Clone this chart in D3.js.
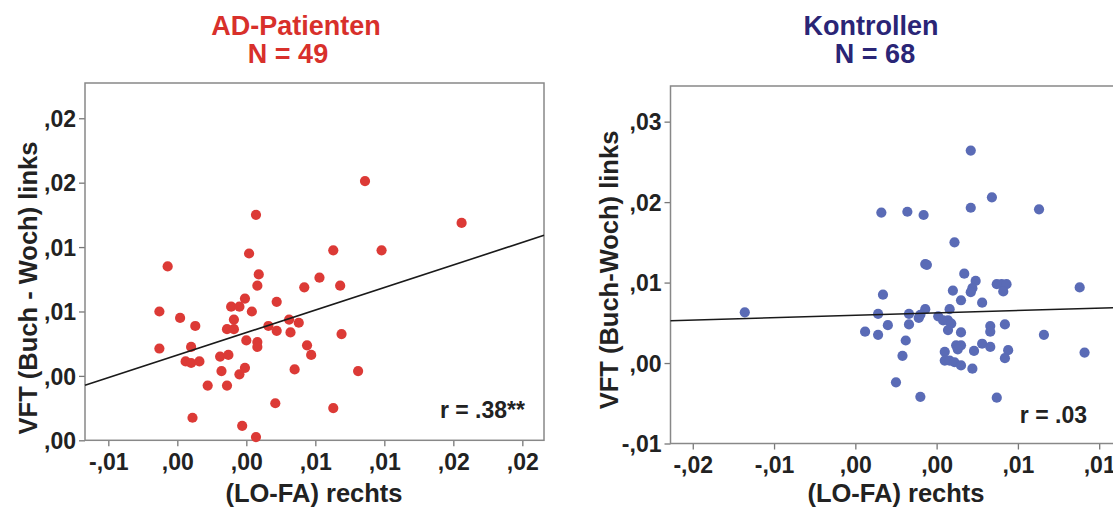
<!DOCTYPE html>
<html>
<head>
<meta charset="utf-8">
<script src="https://cdn.jsdelivr.net/npm/d3@7"></script>
<style>
  html, body { margin: 0; padding: 0; background: #fff; }
  svg { display: block; font-family: "Liberation Sans", Arial, sans-serif; }
</style>
</head>
<body>
<svg id="chart" width="1113" height="513"></svg>
<script>
// ---------- Left panel: AD-Patienten ----------
const adX = [0.0111,0.0181,0.0032,-0.0032,0.0027,0.0088,0.0123,0.0034,0.0078,0.0033,0.0067,0.0093,0.0047,0.0024,0.0014,0.0020,0.0029,-0.0038,-0.0023,0.0016,-0.0012,0.0011,0.0016,0.0041,0.0056,0.0063,0.0047,0.0057,0.0094,0.0025,0.0033,0.0033,-0.0038,-0.0015,0.0069,0.0072,-0.0019,-0.0015,-0.0009,0.0006,0.0012,0.0007,0.0024,0.0020,0.0060,0.0106,-0.0003,0.0011,0.0046,0.0088,-0.0014,0.0022,0.0032];
const adY = [0.0161,0.0135,0.0140,0.0108,0.0116,0.0118,0.0118,0.0103,0.0101,0.0096,0.0095,0.0096,0.0086,0.0088,0.0083,0.0083,0.0080,0.0080,0.0076,0.0075,0.0071,0.0069,0.0069,0.0071,0.0075,0.0073,0.0068,0.0067,0.0066,0.0062,0.0061,0.0058,0.0057,0.0058,0.0059,0.0053,0.0049,0.0048,0.0049,0.0052,0.0053,0.0043,0.0045,0.0041,0.0044,0.0043,0.0034,0.0034,0.0023,0.0020,0.0014,0.0009,0.0002];
const adXTicks = [-0.0075,-0.0025,0.0025,0.0075,0.0125,0.0175,0.0225];
const adXLabels = ["-,01",",00",",00",",01",",01",",02",",02"];
const adYTicks = [0,0.004,0.008,0.012,0.016,0.020];
const adYLabels = [",00",",00",",01",",01",",02",",02"];
const adFit = { intercept: 0.00599, slope: 0.280 };

// ---------- Right panel: Kontrollen ----------
const koX = [0.0021,0.0034,-0.0034,-0.0018,-0.0008,0.0021,0.0063,0.0011,-0.0007,-0.0006,0.0017,0.0024,0.0037,0.0040,0.0043,0.0041,0.0088,0.0010,0.0022,0.0021,-0.0033,0.0015,0.0028,-0.0118,-0.0036,-0.0017,-0.0007,0.0008,-0.0011,-0.0010,0.0001,0.0004,0.0007,0.0009,0.0007,-0.0030,-0.0017,-0.0044,-0.0036,0.0015,0.0033,0.0033,0.0042,0.0066,-0.0019,0.0012,0.0015,0.0013,0.0028,0.0033,0.0023,0.0044,0.0042,0.0091,-0.0021,0.0005,0.0005,0.0008,0.0011,0.0015,0.0022,-0.0025,-0.0010,0.0037];
const koY = [0.0264,0.0206,0.0187,0.0188,0.0184,0.0193,0.0191,0.0150,0.0123,0.0122,0.0111,0.0102,0.0098,0.0098,0.0098,0.0089,0.0094,0.0090,0.0093,0.0088,0.0085,0.0078,0.0075,0.0063,0.0061,0.0061,0.0067,0.0067,0.0056,0.0060,0.0058,0.0053,0.0053,0.0049,0.0041,0.0047,0.0048,0.0039,0.0035,0.0038,0.0046,0.0039,0.0048,0.0035,0.0028,0.0022,0.0022,0.0017,0.0024,0.0020,0.0015,0.0016,0.0006,0.0013,0.0009,0.0014,0.0003,0.0003,0.0001,-0.0003,-0.0007,-0.0024,-0.0042,-0.0043];
const koXTicks = [-0.015,-0.010,-0.005,0.000,0.005,0.010];
const koXLabels = ["-,02","-,01",",00",",00",",01",",01"];
const koYTicks = [-0.01,0,0.01,0.02,0.03];
const koYLabels = ["-,01",",00",",01",",02",",03"];
const koFit = { intercept: 0.00623, slope: 0.0594 };

const svg = d3.select("#chart");
const FONT = "Liberation Sans, Arial, sans-serif";

function panel(cfg) {
  const x = d3.scaleLinear().domain(cfg.xDomain).range([cfg.left, cfg.right]);
  const y = d3.scaleLinear().domain(cfg.yDomain).range([cfg.bottom, cfg.top]);
  const g = svg.append("g");

  // titles
  g.append("text").attr("x", cfg.titleX).attr("y", 35).attr("text-anchor", "middle")
    .attr("font-size", 27).attr("font-weight", "bold").attr("fill", cfg.titleColor).text(cfg.title);
  g.append("text").attr("x", cfg.nX).attr("y", 63).attr("text-anchor", "middle")
    .attr("font-size", 27).attr("font-weight", "bold").attr("fill", cfg.titleColor).text(cfg.n);

  // axes
  const xa = g.append("g").attr("transform", `translate(0,${cfg.bottom})`)
    .call(d3.axisBottom(x).tickValues(cfg.xTicks).tickFormat((d, i) => cfg.xLabels[i]).tickSize(6).tickSizeOuter(0));
  const ya = g.append("g").attr("transform", `translate(${cfg.left},0)`)
    .call(d3.axisLeft(y).tickValues(cfg.yTicks).tickFormat((d, i) => cfg.yLabels[i]).tickSize(6).tickSizeOuter(0));
  [xa, ya].forEach(a => {
    a.select(".domain").remove();
    a.selectAll(".tick line").attr("stroke", "#777").attr("stroke-width", 1.3);
    a.selectAll(".tick text").attr("fill", "#222").attr("font-size", 23).attr("font-weight", "bold")
      .attr("font-family", FONT);
  });
  xa.selectAll(".tick text").attr("dy", "0.9em");
  ya.selectAll(".tick text").attr("dx", "0px").attr("dy", "0.36em");

  // frame
  g.append("rect").attr("x", cfg.left).attr("y", cfg.top)
    .attr("width", cfg.right - cfg.left).attr("height", cfg.bottom - cfg.top)
    .attr("fill", "none").attr("stroke", "#888").attr("stroke-width", 1.5);

  // points
  const pts = cfg.xs.map((v, i) => ({ x: v, y: cfg.ys[i] }));
  g.append("g").selectAll("circle").data(pts).join("circle")
    .attr("cx", d => x(d.x)).attr("cy", d => y(d.y)).attr("r", 5.1)
    .attr("fill", cfg.dotColor);

  // regression line
  const x0 = cfg.xDomain[0], x1 = cfg.xDomain[1];
  g.append("line")
    .attr("x1", x(x0)).attr("y1", y(cfg.fit.intercept + cfg.fit.slope * x0))
    .attr("x2", x(x1)).attr("y2", y(cfg.fit.intercept + cfg.fit.slope * x1))
    .attr("stroke", "#1a1a1a").attr("stroke-width", 1.6);

  // r annotation
  g.append("text").attr("x", cfg.rX).attr("y", cfg.rY).attr("text-anchor", "end")
    .attr("font-size", 23).attr("font-weight", "bold").attr("fill", "#222").text(cfg.r);

  // axis titles
  g.append("text").attr("x", cfg.xTitleX).attr("y", 502).attr("text-anchor", "middle")
    .attr("font-size", 25.5).attr("font-weight", "bold").attr("fill", "#222").text("(LO-FA) rechts");
  g.append("text").attr("transform", `translate(${cfg.yTitleX},${cfg.yTitleY}) rotate(-90)`)
    .attr("text-anchor", "middle").attr("font-size", 25.5).attr("font-weight", "bold")
    .attr("fill", "#222").text(cfg.yTitle);
}

panel({
  xs: adX, ys: adY, xTicks: adXTicks, xLabels: adXLabels, yTicks: adYTicks, yLabels: adYLabels,
  fit: adFit, xDomain: [-0.00919, 0.02407], yDomain: [0, 0.02219],
  left: 85, right: 544, top: 83, bottom: 440.3,
  title: "AD-Patienten", n: "N = 49", titleX: 296, nX: 288, titleColor: "#d8302b",
  dotColor: "#dc3a36", r: "r = .38**", rX: 525, rY: 418,
  xTitleX: 314, yTitle: "VFT (Buch - Woch) links", yTitleX: 37, yTitleY: 288
});

panel({
  xs: koX, ys: koY, xTicks: koXTicks, xLabels: koXLabels, yTicks: koYTicks, yLabels: koYLabels,
  fit: koFit, xDomain: [-0.01637, 0.01128], yDomain: [-0.01, 0.03443],
  left: 670.5, right: 1120, top: 86, bottom: 443.5,
  title: "Kontrollen", n: "N = 68", titleX: 871, nX: 875, titleColor: "#2a2576",
  dotColor: "#5a6bb6", r: "r = .03", rX: 1087, rY: 423,
  xTitleX: 896, yTitle: "VFT (Buch-Woch) links", yTitleX: 618, yTitleY: 270
});
</script>
</body>
</html>
